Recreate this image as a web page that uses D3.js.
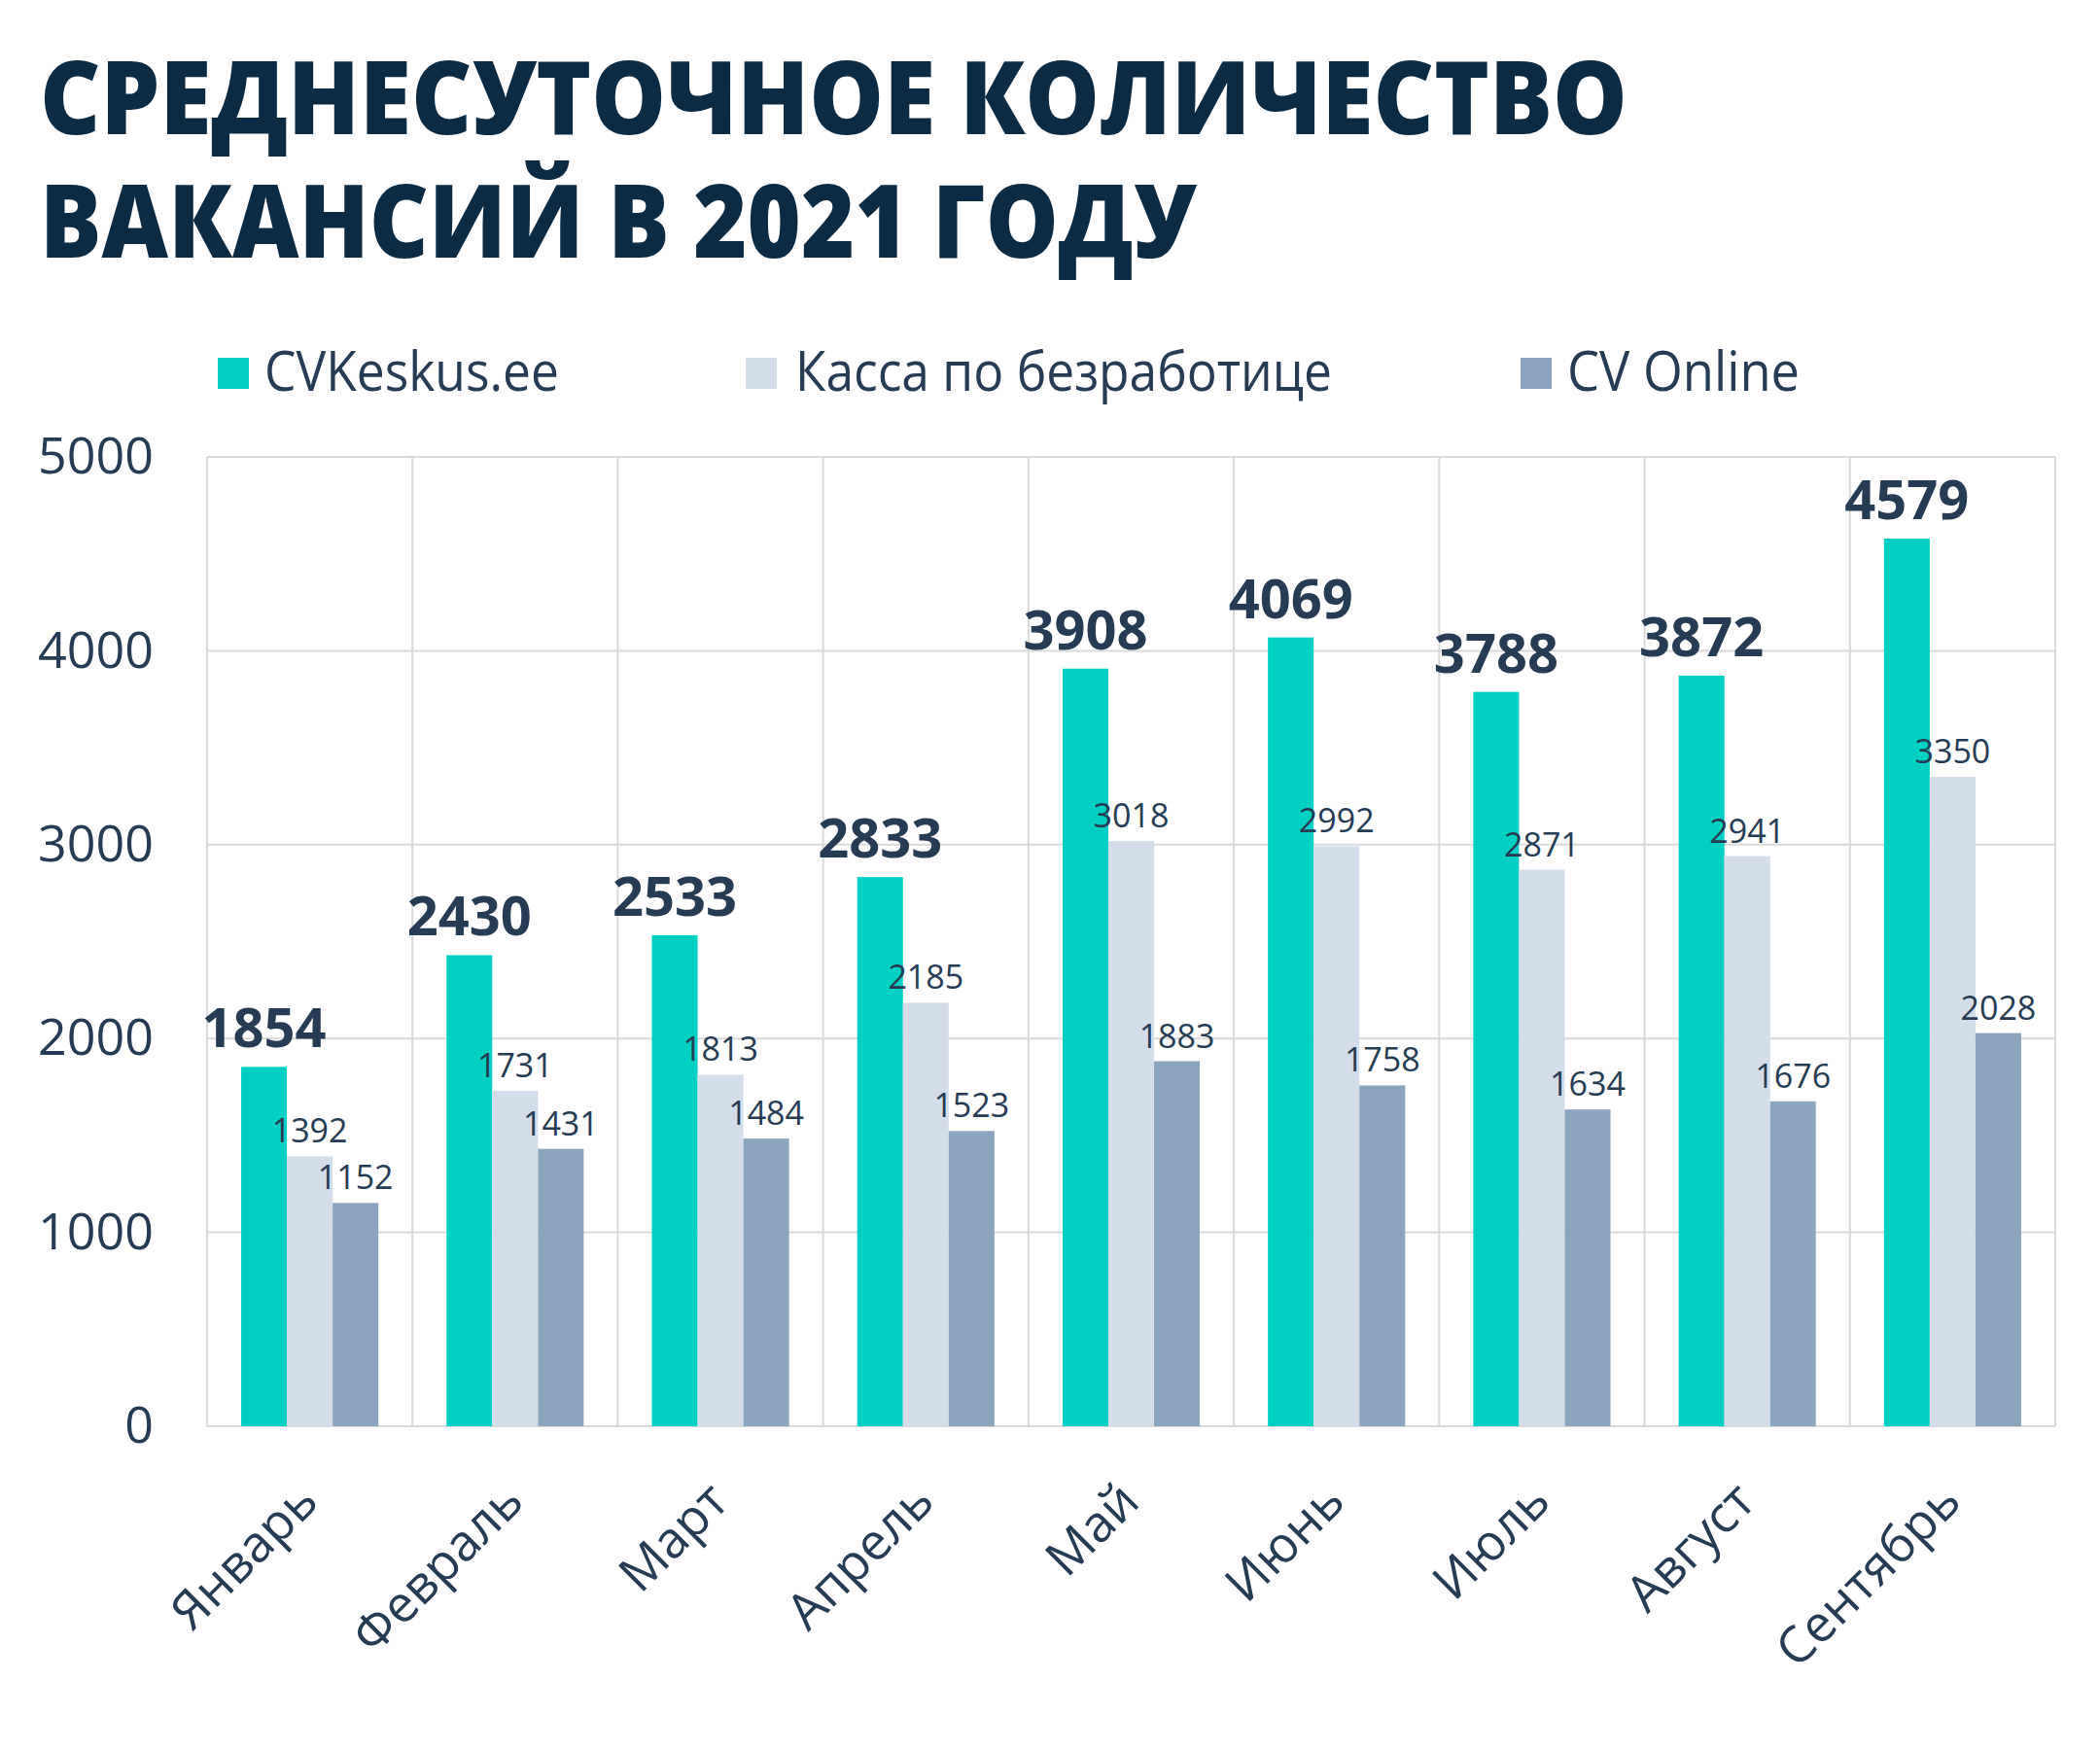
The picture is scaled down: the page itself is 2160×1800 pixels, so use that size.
<!DOCTYPE html>
<html>
<head>
<meta charset="utf-8">
<script src="https://cdn.jsdelivr.net/npm/d3@7"></script>
<style>
  html, body { margin: 0; padding: 0; background: #ffffff; }
  svg { display: block; }
</style>
</head>
<body>
<script>
const months = ["Январь", "Февраль", "Март", "Апрель", "Май", "Июнь", "Июль", "Август", "Сентябрь"];
const seriesNames = ["CVKeskus.ee", "Касса по безработице", "CV Online"];
const cvkeskus = [1854, 2430, 2533, 2833, 3908, 4069, 3788, 3872, 4579];
const kassa = [1392, 1731, 1813, 2185, 3018, 2992, 2871, 2941, 3350];
const cvonline = [1152, 1431, 1484, 1523, 1883, 1758, 1634, 1676, 2028];
const yTicks = [0, 1000, 2000, 3000, 4000, 5000];
const titleLines = ["СРЕДНЕСУТОЧНОЕ КОЛИЧЕСТВО", "ВАКАНСИЙ В 2021 ГОДУ"];

(function () {
const colors = ["#00CFC4", "#D3DEEA", "#8CA5BF"];
const textColor = "#263C54";
const titleColor = "#0B2B45";
const gridColor = "#DADADA";
const font = "'Open Sans', 'Noto Sans', sans-serif";

const W = 2160, H = 1800;
const svg = d3.select("body").append("svg").attr("width", W).attr("height", H);

const seriesData = [cvkeskus, kassa, cvonline];

// Title
const titleSpecs = [
  { y: 138, len: 1633 },
  { y: 265, len: 1189 }
];
titleLines.forEach((t, i) => {
  svg.append("text")
    .attr("x", 41).attr("y", titleSpecs[i].y)
    .attr("font-family", font).attr("font-weight", 800)
    .attr("font-size", 104).attr("fill", titleColor)
    .attr("textLength", titleSpecs[i].len)
    .attr("lengthAdjust", "spacingAndGlyphs")
    .text(t);
});

// Legend
const legendSpecs = [
  { sx: 224, tx: 272, len: 303 },
  { sx: 767, tx: 818, len: 552 },
  { sx: 1564, tx: 1612, len: 239 }
];
seriesNames.forEach((name, i) => {
  svg.append("rect")
    .attr("x", legendSpecs[i].sx).attr("y", 368)
    .attr("width", 32).attr("height", 32)
    .attr("fill", colors[i]);
  svg.append("text")
    .attr("x", legendSpecs[i].tx).attr("y", 402)
    .attr("font-family", font).attr("font-size", 56)
    .attr("fill", textColor)
    .attr("textLength", legendSpecs[i].len)
    .attr("lengthAdjust", "spacingAndGlyphs")
    .text(name);
});

// Scales
const pLeft = 213, pRight = 2114, pTop = 470, pBottom = 1467;
const x0 = d3.scaleBand().domain(months).range([pLeft, pRight]).paddingInner(0).paddingOuter(0);
const x1 = d3.scaleBand().domain(seriesNames).range([0, x0.bandwidth()]).paddingInner(0).paddingOuter(0.745);
const y = d3.scaleLinear().domain([0, 5000]).range([pBottom, pTop]);

// Gridlines
const grid = svg.append("g");
grid.selectAll("line.h").data(yTicks).join("line").attr("class", "h")
  .attr("x1", pLeft).attr("x2", pRight)
  .attr("y1", d => y(d)).attr("y2", d => y(d))
  .attr("stroke", gridColor).attr("stroke-width", 2);
const vlines = months.map(m => x0(m)).concat([pRight]);
grid.selectAll("line.v").data(vlines).join("line").attr("class", "v")
  .attr("x1", d => d).attr("x2", d => d)
  .attr("y1", pTop).attr("y2", pBottom)
  .attr("stroke", gridColor).attr("stroke-width", 2);

// Y axis labels
const yAxis = d3.axisLeft(y).tickValues(yTicks).tickSize(0).tickPadding(0).tickFormat(d3.format("d"));
const yg = svg.append("g").attr("transform", "translate(158,0)").call(yAxis);
yg.select(".domain").remove();
yg.selectAll("text")
  .attr("font-family", font).attr("font-size", 52)
  .attr("fill", textColor).attr("dy", "0.32em").attr("x", 0);

// X axis labels
const xAxis = d3.axisBottom(x0).tickSize(0).tickPadding(0);
const xg = svg.append("g").attr("transform", `translate(0,${pBottom})`).call(xAxis);
xg.select(".domain").remove();
xg.selectAll("text")
  .attr("font-family", font).attr("font-size", 52)
  .attr("fill", textColor)
  .attr("text-anchor", "end")
  .attr("y", 0).attr("dy", 0)
  .attr("transform", "translate(11,80) rotate(-45)");

// Bars
const groups = svg.append("g").selectAll("g").data(months).join("g")
  .attr("transform", d => `translate(${x0(d)},0)`);
seriesNames.forEach((s, si) => {
  groups.append("rect")
    .attr("x", x1(s))
    .attr("width", x1.bandwidth())
    .attr("y", (d, mi) => y(seriesData[si][mi]))
    .attr("height", (d, mi) => pBottom - y(seriesData[si][mi]))
    .attr("fill", colors[si]);
});

// Value labels
seriesNames.forEach((s, si) => {
  groups.append("text")
    .attr("x", x1(s) + x1.bandwidth() / 2)
    .attr("y", (d, mi) => y(seriesData[si][mi]) - (si === 0 ? 20 : 14))
    .attr("text-anchor", "middle")
    .attr("font-family", font)
    .attr("font-weight", si === 0 ? 700 : 400)
    .attr("font-size", si === 0 ? 56 : 34)
    .attr("fill", textColor)
    .text((d, mi) => seriesData[si][mi]);
});
})();
</script>
</body>
</html>
